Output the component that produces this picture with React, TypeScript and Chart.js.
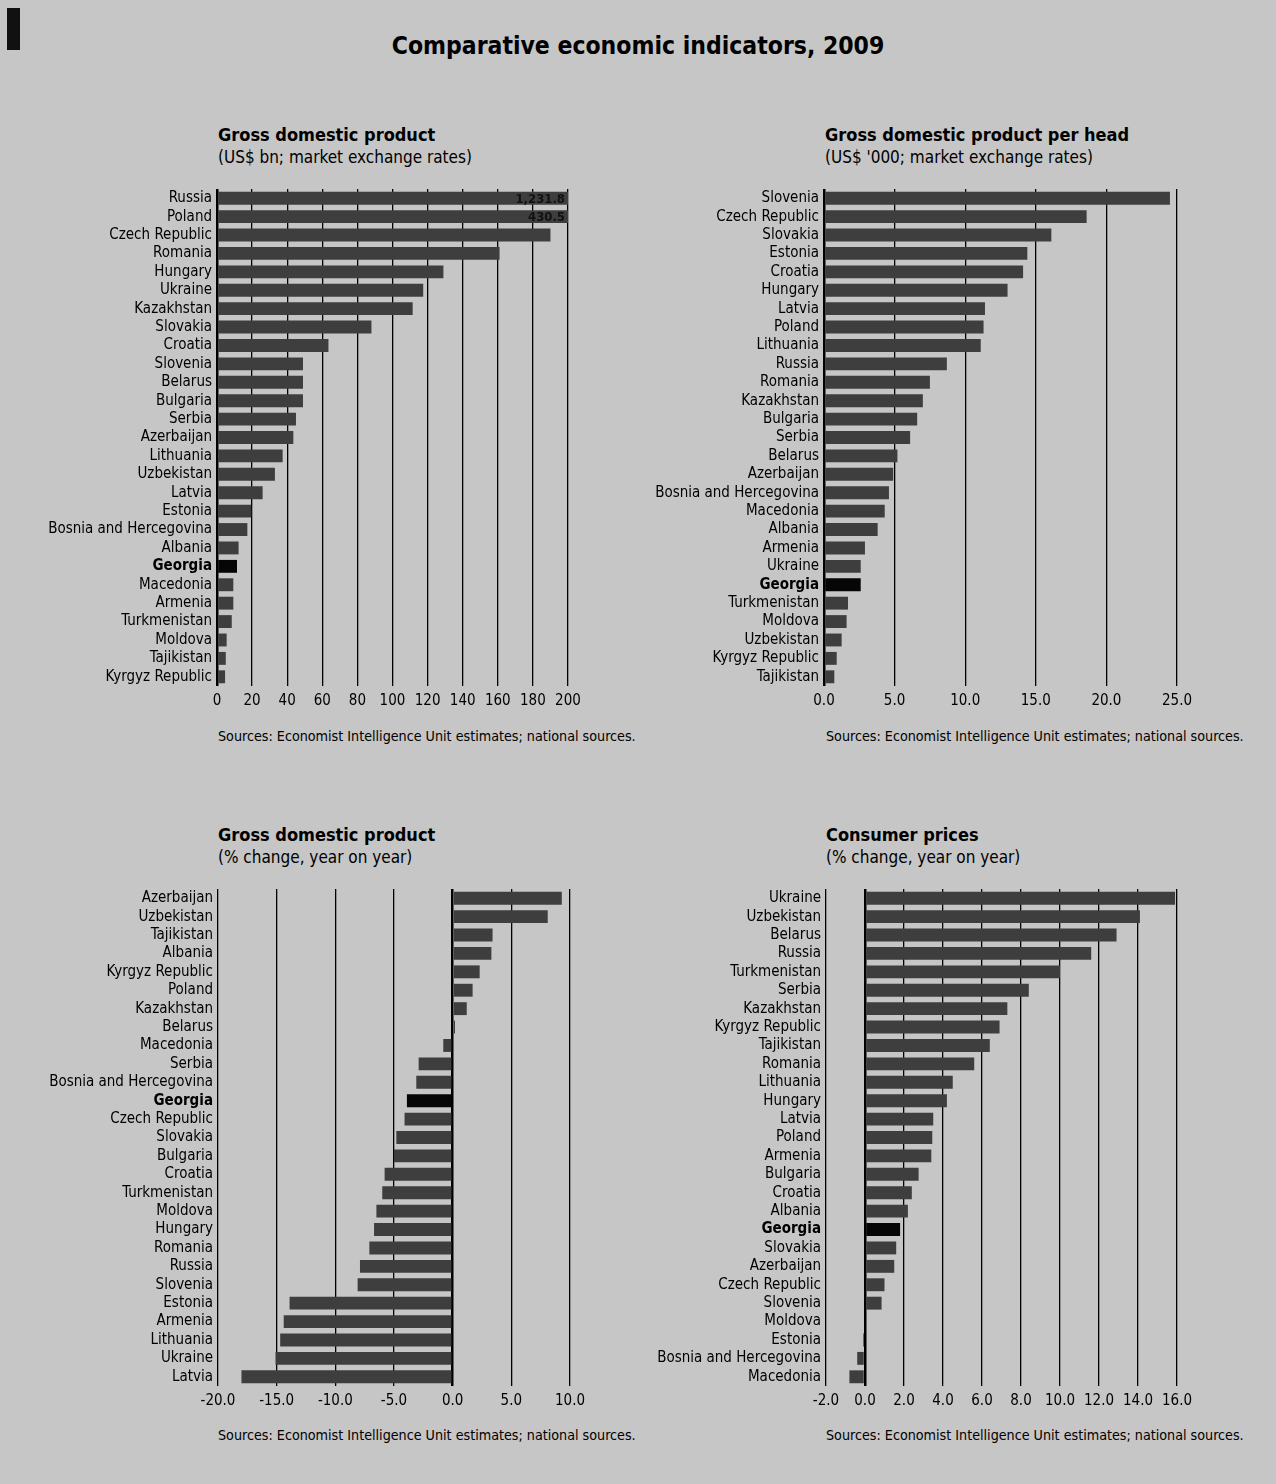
import React, { useEffect, useRef } from "react";
import { Chart, registerables } from "chart.js";
Chart.register(...registerables);

const FONT = "'DejaVu Sans Condensed', 'Liberation Sans Narrow', 'DejaVu Sans', sans-serif";
const BG = "#c6c6c6";
const BAR = "#3e3e3e";
const HIGHLIGHT = "#060606";

// Panel 1: GDP, US$ bn
const gdpCountries = ["Russia", "Poland", "Czech Republic", "Romania", "Hungary", "Ukraine", "Kazakhstan", "Slovakia", "Croatia", "Slovenia", "Belarus", "Bulgaria", "Serbia", "Azerbaijan", "Lithuania", "Uzbekistan", "Latvia", "Estonia", "Bosnia and Hercegovina", "Albania", "Georgia", "Macedonia", "Armenia", "Turkmenistan", "Moldova", "Tajikistan", "Kyrgyz Republic"];
const gdpValues = [1231.8, 430.5, 190.0, 161.0, 129.0, 117.5, 111.5, 88.0, 63.5, 49.0, 49.0, 49.0, 45.0, 43.5, 37.4, 33.0, 26.0, 19.5, 17.3, 12.3, 11.4, 9.3, 9.3, 8.4, 5.5, 5.0, 4.6];
const gdpTicks = [0, 20, 40, 60, 80, 100, 120, 140, 160, 180, 200];

// Panel 2: GDP per head, US$ '000
const perHeadCountries = ["Slovenia", "Czech Republic", "Slovakia", "Estonia", "Croatia", "Hungary", "Latvia", "Poland", "Lithuania", "Russia", "Romania", "Kazakhstan", "Bulgaria", "Serbia", "Belarus", "Azerbaijan", "Bosnia and Hercegovina", "Macedonia", "Albania", "Armenia", "Ukraine", "Georgia", "Turkmenistan", "Moldova", "Uzbekistan", "Kyrgyz Republic", "Tajikistan"];
const perHeadValues = [24.5, 18.6, 16.1, 14.4, 14.1, 13.0, 11.4, 11.3, 11.1, 8.7, 7.5, 7.0, 6.6, 6.1, 5.2, 4.9, 4.6, 4.3, 3.8, 2.9, 2.6, 2.6, 1.7, 1.6, 1.25, 0.9, 0.73];
const perHeadTicks = [0, 5, 10, 15, 20, 25];

// Panel 3: GDP, % change
const growthCountries = ["Azerbaijan", "Uzbekistan", "Tajikistan", "Albania", "Kyrgyz Republic", "Poland", "Kazakhstan", "Belarus", "Macedonia", "Serbia", "Bosnia and Hercegovina", "Georgia", "Czech Republic", "Slovakia", "Bulgaria", "Croatia", "Turkmenistan", "Moldova", "Hungary", "Romania", "Russia", "Slovenia", "Estonia", "Armenia", "Lithuania", "Ukraine", "Latvia"];
const growthValues = [9.3, 8.1, 3.4, 3.3, 2.3, 1.7, 1.2, 0.2, -0.8, -2.9, -3.1, -3.9, -4.1, -4.8, -5.0, -5.8, -6.0, -6.5, -6.7, -7.1, -7.9, -8.1, -13.9, -14.4, -14.7, -15.1, -18.0];
const growthTicks = [-20, -15, -10, -5, 0, 5, 10];

// Panel 4: Consumer prices, % change
const cpiCountries = ["Ukraine", "Uzbekistan", "Belarus", "Russia", "Turkmenistan", "Serbia", "Kazakhstan", "Kyrgyz Republic", "Tajikistan", "Romania", "Lithuania", "Hungary", "Latvia", "Poland", "Armenia", "Bulgaria", "Croatia", "Albania", "Georgia", "Slovakia", "Azerbaijan", "Czech Republic", "Slovenia", "Moldova", "Estonia", "Bosnia and Hercegovina", "Macedonia"];
const cpiValues = [15.9, 14.1, 12.9, 11.6, 10.0, 8.4, 7.3, 6.9, 6.4, 5.6, 4.5, 4.2, 3.5, 3.45, 3.4, 2.75, 2.4, 2.2, 1.8, 1.6, 1.5, 1.0, 0.85, 0.0, -0.1, -0.4, -0.8];
const cpiTicks = [-2, 0, 2, 4, 6, 8, 10, 12, 14, 16];

const overflowLabels = {
  id: "overflowLabels",
  afterDatasetsDraw(chart: any) {
    const xs = chart.scales.x;
    const ys = chart.scales.y;
    const data = chart.data.datasets[0].data as number[];
    const ctx = chart.ctx;
    data.forEach((v, i) => {
      if (v > xs.max) {
        ctx.save();
        ctx.font = `bold 13px ${FONT}`;
        ctx.fillStyle = "#111";
        ctx.textAlign = "right";
        ctx.textBaseline = "middle";
        ctx.fillText(
          v.toLocaleString("en-US", { minimumFractionDigits: 1, maximumFractionDigits: 1 }),
          xs.getPixelForValue(xs.max) - 3,
          ys.getPixelForValue(i) + 1
        );
        ctx.restore();
      }
    });
  },
};

type PanelProps = {
  countries: string[];
  values: number[];
  ticks: number[];
  decimals: number;
  canvasLeft: number;
  canvasRight: number;
  canvasTop: number;
  plotLeft: number;
  plotRight: number;
  plotTop: number;
  plotBottom: number;
};

const AXIS_H = 34;

function Panel(p: PanelProps) {
  const ref = useRef<HTMLCanvasElement | null>(null);
  const w = p.canvasRight - p.canvasLeft;
  const h = p.plotBottom - p.canvasTop + AXIS_H;
  useEffect(() => {
    if (!ref.current) return;
    const chart = new Chart(ref.current, {
      type: "bar",
      data: {
        labels: p.countries,
        datasets: [
          {
            data: p.values,
            backgroundColor: p.countries.map((c) => (c === "Georgia" ? HIGHLIGHT : BAR)),
            borderWidth: 0,
            barPercentage: 0.7,
            categoryPercentage: 1,
          },
        ],
      },
      options: {
        indexAxis: "y",
        animation: false,
        responsive: false,
        devicePixelRatio: 1,
        layout: {
          padding: {
            left: 0,
            right: p.canvasRight - p.plotRight,
            top: p.plotTop - p.canvasTop,
            bottom: 0,
          },
        },
        plugins: { legend: { display: false }, tooltip: { enabled: false } },
        scales: {
          x: {
            type: "linear",
            position: "bottom",
            min: p.ticks[0],
            max: p.ticks[p.ticks.length - 1],
            afterBuildTicks: (s: any) => {
              s.ticks = p.ticks.map((v) => ({ value: v }));
            },
            afterFit: (s: any) => {
              s.height = AXIS_H;
            },
            grid: {
              color: "#000",
              lineWidth: (c: any) => (c.tick && c.tick.value === 0 ? 2.5 : 1.3),
              drawTicks: false,
            },
            border: { display: false },
            ticks: {
              color: "#000",
              padding: 6,
              maxRotation: 0,
              autoSkip: false,
              font: { family: FONT, size: 15 },
              callback: (v: any) => Number(v).toFixed(p.decimals),
            },
          },
          y: {
            afterFit: (s: any) => {
              s.width = p.plotLeft - p.canvasLeft;
            },
            grid: { display: false, drawTicks: false },
            border: { display: false },
            ticks: {
              autoSkip: false,
              padding: 5,
              color: "#000",
              font: (c: any) => ({
                family: FONT,
                size: 15,
                weight: c.tick && c.tick.label === "Georgia" ? "bold" : "normal",
              }),
            },
          },
        },
      },
      plugins: [overflowLabels],
    });
    return () => chart.destroy();
  }, []);
  return (
    <canvas
      ref={ref}
      width={w}
      height={h}
      style={{ position: "absolute", left: p.canvasLeft, top: p.canvasTop, width: w, height: h }}
    />
  );
}

function Text(props: { x: number; y: number; size: number; bold?: boolean; children: string }) {
  return (
    <div
      style={{
        position: "absolute",
        left: props.x,
        top: props.y,
        fontFamily: FONT,
        fontSize: props.size,
        lineHeight: `${props.size}px`,
        fontWeight: props.bold ? "bold" : "normal",
        color: "#000",
        whiteSpace: "nowrap",
      }}
    >
      {props.children}
    </div>
  );
}

const SRC = "Sources: Economist Intelligence Unit estimates; national sources.";

export default function App() {
  return (
    <div
      style={{
        position: "absolute",
        left: 0,
        top: 0,
        width: 1276,
        height: 1484,
        background: BG,
        overflow: "hidden",
      }}
    >
      <div style={{ position: "absolute", left: 7, top: 8, width: 13, height: 42, background: "#111" }} />
      <div
        style={{
          position: "absolute",
          left: 0,
          top: 34,
          width: 1276,
          textAlign: "center",
          fontFamily: FONT,
          fontWeight: "bold",
          fontSize: 24.5,
          lineHeight: "24.5px",
          color: "#000",
        }}
      >
        Comparative economic indicators, 2009
      </div>

      <Text x={218} y={126} size={18} bold>Gross domestic product</Text>
      <Text x={218} y={149} size={17}>(US$ bn; market exchange rates)</Text>
      <Panel countries={gdpCountries} values={gdpValues} ticks={gdpTicks} decimals={0}
        canvasLeft={0} canvasRight={630} canvasTop={175}
        plotLeft={217} plotRight={568} plotTop={184.7} plotBottom={686.4} />
      <Text x={218} y={729} size={14.2}>{SRC}</Text>

      <Text x={825} y={126} size={18} bold>Gross domestic product per head</Text>
      <Text x={825} y={149} size={17}>(US$ '000; market exchange rates)</Text>
      <Panel countries={perHeadCountries} values={perHeadValues} ticks={perHeadTicks} decimals={1}
        canvasLeft={630} canvasRight={1276} canvasTop={175}
        plotLeft={824} plotRight={1177} plotTop={184.7} plotBottom={686.4} />
      <Text x={826} y={729} size={14.2}>{SRC}</Text>

      <Text x={218} y={826} size={18} bold>Gross domestic product</Text>
      <Text x={218} y={849} size={17}>(% change, year on year)</Text>
      <Panel countries={growthCountries} values={growthValues} ticks={growthTicks} decimals={1}
        canvasLeft={0} canvasRight={630} canvasTop={875}
        plotLeft={218} plotRight={570} plotTop={885.7} plotBottom={1386.3} />
      <Text x={218} y={1428} size={14.2}>{SRC}</Text>

      <Text x={826} y={826} size={18} bold>Consumer prices</Text>
      <Text x={826} y={849} size={17}>(% change, year on year)</Text>
      <Panel countries={cpiCountries} values={cpiValues} ticks={cpiTicks} decimals={1}
        canvasLeft={630} canvasRight={1276} canvasTop={875}
        plotLeft={826} plotRight={1177} plotTop={885.7} plotBottom={1386.3} />
      <Text x={826} y={1428} size={14.2}>{SRC}</Text>
    </div>
  );
}
